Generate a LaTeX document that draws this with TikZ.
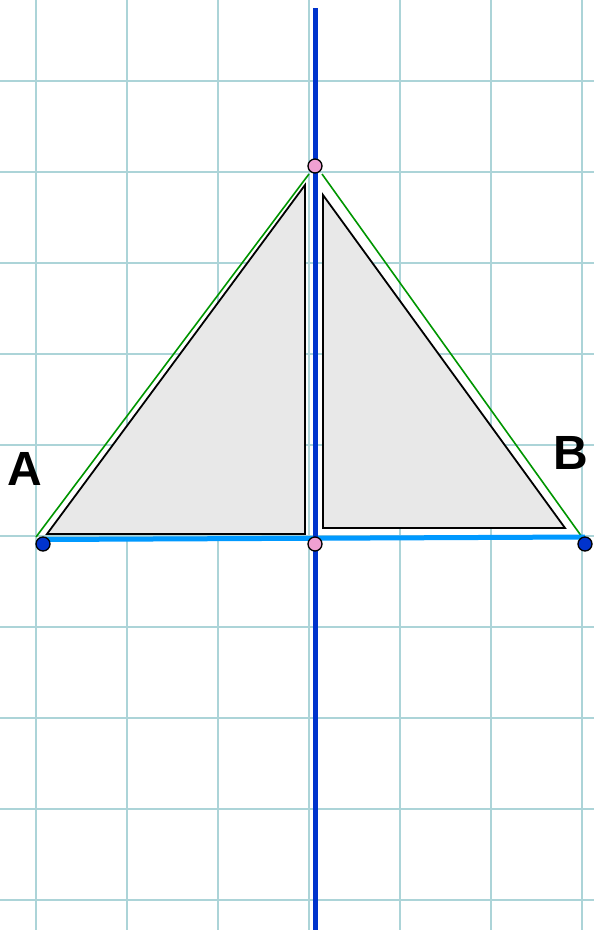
\documentclass[tikz,border=0pt]{standalone}
\usepackage{fontspec}
\setmainfont{Liberation Sans}
\definecolor{gridc}{RGB}{172,212,216}
\definecolor{axisblue}{RGB}{0,51,204}
\definecolor{segblue}{RGB}{0,153,255}
\definecolor{trigreen}{RGB}{0,150,0}
\definecolor{ptpink}{RGB}{240,160,210}
\definecolor{trifill}{RGB}{232,232,232}
\tikzset{
  gridline/.style={draw=gridc, line width=1.6pt},
  ptdot/.style={circle, draw=black, line width=1.3pt, minimum size=14pt, inner sep=0pt},
  halftri/.style={draw=black, fill=trifill, line width=1.8pt, line join=miter},
  lbl/.style={font=\bfseries\fontsize{48}{48}\selectfont, inner sep=0pt}
}
\begin{document}
\begin{tikzpicture}[x=1pt, y=-1pt]
\useasboundingbox (0,0) rectangle (594,930);
\fill[white] (0,0) rectangle (594,930);
% grid
\foreach \gx in {36,127,218,309,400,491,582} \draw[gridline] (\gx,0) -- (\gx,930);
\foreach \gy in {81,172,263,354,445,536,627,718,809,900} \draw[gridline] (0,\gy) -- (594,\gy);
% coordinates
\coordinate (gA) at (36,537);
\coordinate (gT1) at (309,174);
\coordinate (gT2) at (322,174);
\coordinate (gB) at (582,537);
\coordinate (sA) at (43,539.5);
\coordinate (sB) at (585,537);
\coordinate (top) at (315,8);
\coordinate (bot) at (315,930);
% gray half triangles
\filldraw[halftri] (47,534) -- (305,534) -- (305,185) -- cycle;
\filldraw[halftri] (323,528) -- (565,528) -- (323,195) -- cycle;
% green sides
\draw[trigreen, line width=1.6pt] (gA) -- (gT1);
\draw[trigreen, line width=1.6pt] (gT2) -- (gB);
% base segment
\draw[segblue, line width=5pt] (sA) -- (sB);
% axis
\draw[axisblue, line width=5pt] (top) -- (bot);
% points
\node[ptdot, fill=ptpink] (apex) at (315,166) {};
\node[ptdot, fill=ptpink] (mid) at (315,544) {};
\node[ptdot, fill=axisblue] (A) at (43,544) {};
\node[ptdot, fill=axisblue] (B) at (585,544) {};
% labels
\node[lbl] (lA) at (25,469) {A};
\node[lbl] (lB) at (571,453) {B};
\end{tikzpicture}
\end{document}
